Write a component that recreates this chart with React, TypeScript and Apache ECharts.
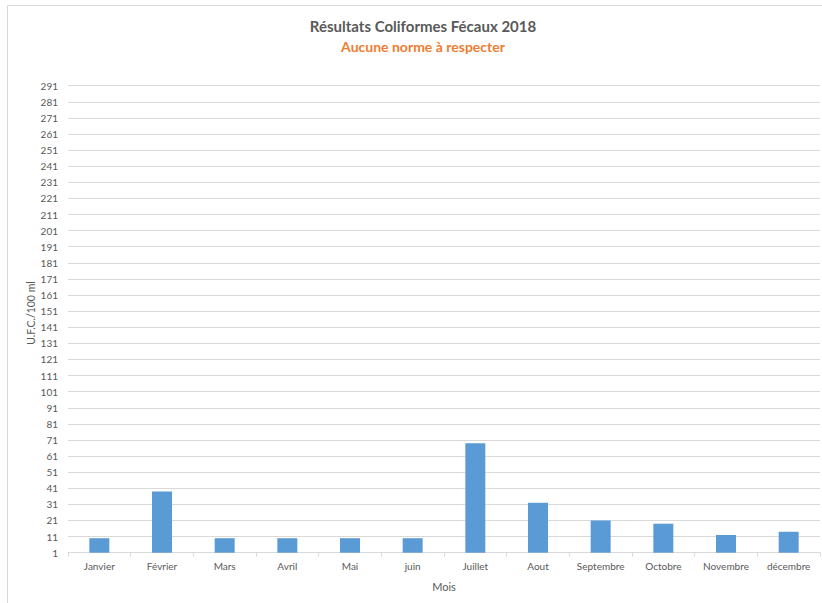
import React, { useEffect, useRef } from "react";
import * as echarts from "echarts";

const months = ["Janvier", "Février", "Mars", "Avril", "Mai", "juin", "Juillet", "Aout", "Septembre", "Octobre", "Novembre", "décembre"];
const values = [10, 39, 10, 10, 10, 10, 69, 32, 21, 19, 12, 14];
const axisBase = 1;
const axisTop = 291;
const tickStep = 10;
const titleText = "Résultats Coliformes Fécaux 2018";
const subtitleText = "Aucune norme à respecter";
const yName = "U.F.C./100 ml";
const xName = "Mois";

export default function App() {
  const ref = useRef<HTMLDivElement>(null);
  useEffect(() => {
    document.body.style.margin = "0";
    const chart = echarts.init(ref.current!, undefined, { renderer: "svg" });
    const font = "Lato, 'Open Sans', sans-serif";
    chart.setOption({
      animation: false,
      backgroundColor: "#ffffff",
      graphic: [
        { type: "rect", shape: { x: 7.5, y: 5.5, width: 830, height: 620 }, style: { fill: "none", stroke: "#d9d9d9", lineWidth: 1 }, silent: true },
        { type: "text", x: 423, y: 26, style: { text: titleText, fill: "#595959", font: `bold 15px ${font}`, textAlign: "center", textVerticalAlign: "middle" } },
        { type: "text", x: 423, y: 46, style: { text: subtitleText, fill: "#ED7D31", font: `bold 14px ${font}`, textAlign: "center", textVerticalAlign: "middle" } },
        { type: "text", x: 31, y: 313, rotation: Math.PI / 2, style: { text: yName, fill: "#595959", font: `10.5px ${font}`, textAlign: "center", textVerticalAlign: "middle" } },
      ],
      grid: { left: 68, right: 2, top: 85.7, bottom: 50.3, containLabel: false },
      xAxis: {
        type: "category",
        data: months,
        name: xName,
        nameLocation: "middle",
        nameGap: 28,
        nameTextStyle: { color: "#595959", fontSize: 11, fontFamily: font },
        axisLine: { lineStyle: { color: "#d9d9d9", width: 1 } },
        axisTick: { show: true, alignWithLabel: false, length: 4, lineStyle: { color: "#d9d9d9" } },
        axisLabel: { color: "#595959", fontSize: 10, fontFamily: font, margin: 8, interval: 0 },
      },
      yAxis: {
        type: "value",
        min: 0,
        max: axisTop - axisBase,
        interval: tickStep,
        axisLine: { show: false },
        axisTick: { show: false },
        splitLine: { lineStyle: { color: "#d9d9d9", width: 1 } },
        axisLabel: { color: "#595959", fontSize: 10, fontFamily: font, margin: 10, formatter: (v: number) => String(v + axisBase) },
      },
      series: [
        {
          type: "bar",
          data: values.map((v) => v - axisBase),
          barWidth: 20,
          itemStyle: { color: "#5B9BD5" },
        },
      ],
    });
    return () => chart.dispose();
  }, []);
  return <div ref={ref} style={{ position: "fixed", left: 0, top: 0, width: 822, height: 603 }} />;
}
